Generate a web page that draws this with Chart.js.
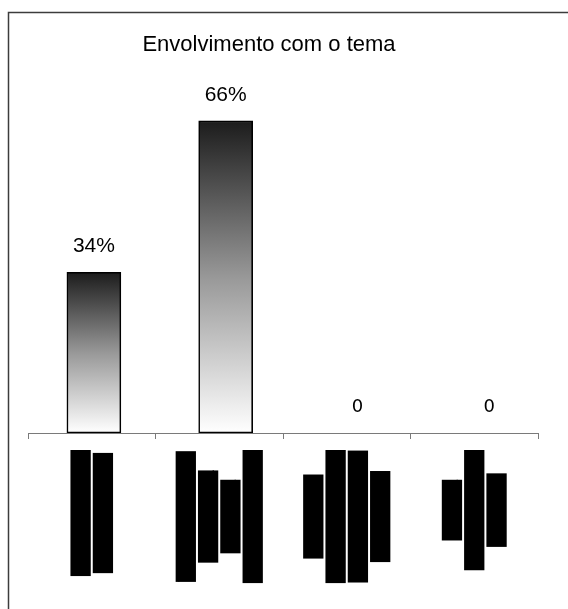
<!DOCTYPE html>
<html>
<head>
<meta charset="utf-8">
<script src="https://cdn.jsdelivr.net/npm/chart.js@4.4.0/dist/chart.umd.min.js"></script>
<style>
  html, body { margin: 0; padding: 0; background: #ffffff; }
  #wrap { width: 568px; height: 609px; position: relative; }
</style>
</head>
<body>
<div id="wrap"><canvas id="chart"></canvas></div>
<script>
// Survey answers: share of respondents per level of involvement
const chartTitle = 'Envolvimento com o tema';
const categories = [
  ['Envolvimento', 'direto e ativo'],
  ['Tem interesse', 'pelo tema', 'e busca', 'acompanhá-lo'],
  ['Conhece', 'pouco sobre o', 'assunto e não', 'se engaja'],
  ['Nunca', 'participou de', 'eventos']
];
const shares = [34, 66, 0, 0];
const barPositions = [0, 1, 2, 3];
const shareMax = 70;

function shareText(v) {
  return v === 0 ? '0' : v + '%';
}

// White page, outer frame line and the heading
const framePlugin = {
  id: 'frame',
  beforeDraw(chart) {
    const ctx = chart.ctx;
    ctx.save();
    ctx.fillStyle = '#ffffff';
    ctx.fillRect(0, 0, chart.width, chart.height);
    ctx.strokeStyle = '#3c3c3c';
    ctx.lineWidth = 1.5;
    ctx.strokeRect(8.5, 12.5, chart.width + 50, chart.height + 50);
    ctx.fillStyle = '#000000';
    ctx.font = '22px "Liberation Sans", Arial, sans-serif';
    ctx.textAlign = 'center';
    ctx.textBaseline = 'middle';
    ctx.fillText(chartTitle, 269, 45);
    ctx.restore();
  }
};

// Value written above each bar
const valuePlugin = {
  id: 'values',
  afterDatasetsDraw(chart) {
    const ctx = chart.ctx;
    const meta = chart.getDatasetMeta(0);
    ctx.save();
    ctx.fillStyle = '#000000';
    ctx.textAlign = 'center';
    ctx.textBaseline = 'middle';
    meta.data.forEach((bar, i) => {
      const v = shares[i];
      ctx.font = v === 0 ? '18px "DejaVu Sans", sans-serif' : '21px "Liberation Sans", Arial, sans-serif';
      ctx.fillText(shareText(v), bar.x, bar.y - 26);
    });
    ctx.restore();
  }
};

// Category names, rotated and set in solid black bands below the axis
const categoryPlugin = {
  id: 'categoryText',
  afterDraw(chart) {
    const ctx = chart.ctx;
    const xs = chart.scales.x;
    const pitch = 22.3, band = 20.3, top = xs.bottom + 11;
    ctx.save();
    ctx.font = '21px "Liberation Sans", Arial, sans-serif';
    ctx.fillStyle = '#000000';
    ctx.textAlign = 'center';
    ctx.textBaseline = 'middle';
    categories.forEach((lines, i) => {
      const cx = xs.getPixelForValue(i);
      const widths = lines.map(l => ctx.measureText(l).width);
      const longest = Math.max(...widths);
      const cy = top + longest / 2;
      ctx.save();
      ctx.translate(cx, cy);
      ctx.rotate(-Math.PI / 2);
      lines.forEach((l, j) => {
        const ly = (j - (lines.length - 1) / 2) * pitch;
        ctx.fillRect(-widths[j] / 2, ly - band / 2, widths[j], band);
        ctx.fillText(l, 0, ly);
      });
      ctx.restore();
    });
    ctx.restore();
  }
};

function barGradient(context) {
  const chart = context.chart;
  if (!chart.chartArea || context.type !== 'data') return '#999999';
  const y = chart.scales.y;
  const top = y.getPixelForValue(context.raw.y);
  const base = y.getPixelForValue(0);
  if (base - top < 1) return '#ffffff';
  const g = chart.ctx.createLinearGradient(0, top, 0, base);
  g.addColorStop(0, '#1c1c1c');
  g.addColorStop(0.5, '#989898');
  g.addColorStop(1, '#ffffff');
  return g;
}

new Chart(document.getElementById('chart'), {
  type: 'bar',
  data: {
    labels: categories,
    datasets: [{
      data: shares.map((v, i) => ({ x: barPositions[i], y: v })),
      xAxisID: 'xb',
      yAxisID: 'y',
      backgroundColor: barGradient,
      borderColor: '#000000',
      borderWidth: (c) => (c.raw && c.raw.y ? 1.6 : 0),
      borderSkipped: false,
      barThickness: 54
    }]
  },
  options: {
    responsive: true,
    maintainAspectRatio: false,
    animation: false,
    events: [],
    layout: { padding: { left: 28, right: 30, top: 102, bottom: 170 } },
    plugins: {
      legend: { display: false },
      tooltip: { enabled: false },
      title: { display: false }
    },
    scales: {
      x: {
        type: 'category',
        position: 'bottom',
        offset: true,
        grid: { offset: true, drawOnChartArea: false, drawTicks: true, tickLength: 6, color: '#7a7a7a', lineWidth: 1 },
        border: { display: true, color: '#7a7a7a', width: 1 },
        ticks: { display: false }
      },
      xb: {
        type: 'linear',
        position: 'bottom',
        display: false,
        offset: false,
        min: -0.5,
        max: 3.37
      },
      y: {
        display: false,
        min: 0,
        max: shareMax
      }
    }
  },
  plugins: [framePlugin, valuePlugin, categoryPlugin]
});
</script>
</body>
</html>
